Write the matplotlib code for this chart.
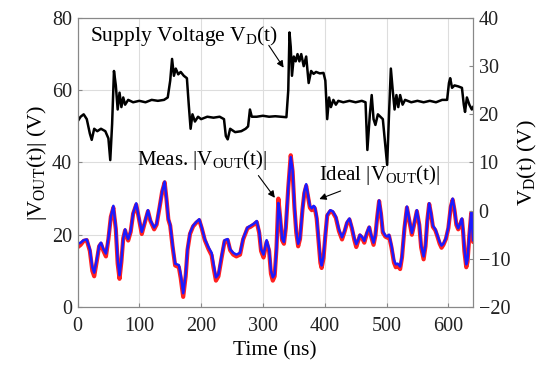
import matplotlib
matplotlib.use("Agg")
import matplotlib.pyplot as plt

plt.rcParams['font.family'] = ['Liberation Serif', 'DejaVu Serif']
plt.rcParams['mathtext.fontset'] = 'custom'
plt.rcParams['mathtext.rm'] = 'Liberation Serif'
plt.rcParams['mathtext.it'] = 'Liberation Serif:italic'

# supply voltage V_D(t), right axis (V)
t_sup = [0, 5, 10, 15, 20, 23, 27, 32, 38, 45, 50, 53, 56, 59, 62, 65, 68, 71, 74, 77,
         82, 90, 100, 110, 120, 130, 140, 146, 150, 153, 156, 159, 163, 167, 172, 177,
         180, 183, 186, 190, 195, 200, 210, 220, 230, 237, 240, 243, 247, 255, 265, 272,
         276, 279, 282, 290, 300, 310, 320, 330, 338, 341, 343, 345, 347, 350, 353, 356,
         359, 362, 366, 370, 374, 378, 382, 386, 392, 398, 401, 404, 407, 410, 414, 418,
         422, 430, 440, 450, 460, 466, 469, 473, 476, 479, 482, 486, 490, 494, 497, 501,
         504, 507, 510, 513, 516, 519, 522, 526, 530, 540, 550, 560, 570, 580, 590, 598,
         601, 603, 606, 610, 616, 622, 625, 627, 630, 634, 638, 640]
v_sup = [18.5, 19.5, 20, 19, 16, 14.7, 17, 16.5, 17, 16.5, 15, 10.5, 18, 29, 26, 21, 24.5, 21.5, 23.5, 22,
         23, 22.5, 22.8, 22.5, 23, 22.8, 23, 23.5, 27, 31.5, 28, 29.5, 28.3, 28.8, 28, 27.5,
         22, 17, 20, 18.5, 19.5, 19, 19.5, 19.3, 19.5, 19, 15.5, 14.8, 17, 16.3, 16.5, 17,
         17.5, 21, 19.5, 19.5, 19.7, 19.5, 19.6, 19.5, 19.4, 25, 37, 34, 28, 32, 31, 32.5,
         31, 32.5, 30, 32, 26.5, 29, 28.4, 28.8, 28.5, 28.6, 27, 19, 23.5, 21.5, 23, 22,
         22.8, 22.5, 22.8, 22.5, 22.8, 22.5, 12.6, 20, 24, 19, 17.8, 20, 19.5, 19, 15, 9.5,
         20, 29.5, 25, 21, 24, 21.5, 24, 22, 23, 22.5, 22.8, 22.5, 22.8, 22.5, 23, 23,
         26.5, 27.5, 25.5, 26, 25.8, 25.5, 22, 20.5, 23.5, 22, 21, 21.5]

# |V_OUT(t)|, left axis (V)
t_out = [0, 5, 10, 15, 20, 24, 27, 31, 35, 38, 42, 46, 50, 54, 58, 62, 65, 68, 71, 74,
         77, 80, 82, 86, 90, 95, 99, 104, 108, 114, 118, 124, 128, 133, 137, 141, 144, 147,
         150, 154, 158, 164, 167, 171, 175, 178, 182, 187, 192, 197, 201, 206, 212, 217,
         220, 224, 228, 233, 238, 243, 247, 252, 257, 263, 268, 275, 280, 285, 290, 294,
         297, 301, 303, 306, 310, 313, 316, 319, 322, 325, 328, 331, 334, 337, 341, 345,
         348, 351, 354, 357, 360, 364, 367, 370, 373, 376, 379, 382, 384, 387, 390, 393,
         395, 398, 401, 404, 409, 413, 418, 423, 428, 432, 436, 440, 444, 448, 451, 454,
         457, 460, 464, 468, 472, 475, 479, 482, 485, 488, 491, 494, 498, 501, 504, 508,
         512, 515, 518, 522, 525, 529, 533, 536, 541, 544, 549, 553, 556, 560, 563, 566,
         569, 572, 575, 579, 582, 586, 589, 592, 596, 600, 604, 607, 610, 613, 616, 619,
         622, 624, 626, 629, 631, 634, 637, 638, 640]
v_ideal = [17.5, 17.8, 18.5, 18.7, 16, 11, 9.5, 13, 17, 17.8, 16, 14.8, 19, 25, 28, 22, 13, 8.8, 13, 19,
           21.5, 19.5, 18.8, 21, 26, 28.7, 25, 20.8, 23, 26.8, 24, 22, 23, 28, 32, 34.7, 30, 24.5,
           22.8, 17, 12, 11.6, 9, 3.8, 9, 16, 20.5, 22.5, 23.5, 24.3, 22, 18.8, 16.5, 15,
           12, 8.2, 9, 14, 18.5, 18.8, 16, 15, 14.5, 15, 19, 22, 22.5, 23, 23.8, 21,
           16, 14.5, 16, 18.5, 16, 10, 8.2, 9, 16, 28.8, 25, 19, 18, 22, 33, 41.5,
           38, 28, 21, 17.5, 19, 27, 32, 34, 31, 28, 27.3, 28, 27.7, 25, 19, 13,
           11.5, 14, 20, 25.5, 26.8, 26.5, 25, 21.5, 19.3, 21, 23.5, 24.5, 22, 19, 17.4, 18.5,
           20, 19.5, 18.3, 20.5, 22.2, 20, 17.8, 20, 25, 29.5, 26, 21, 19.8, 19.5, 20, 17,
           13, 11.8, 12, 11.2, 14, 22, 27.8, 25, 20.5, 22.5, 26.8, 23, 17, 14, 17, 24,
           28.7, 26, 22.5, 21.5, 20, 18, 17, 17.5, 19, 22, 28, 30, 27, 23, 21.8, 23,
           24.5, 21, 16, 11.8, 13, 20, 26.3, 24, 18.5]
v_meas = [16.5, 17.2, 18.3, 18.5, 15.5, 10, 8.5, 12.5, 16.8, 17.5, 15.5, 14, 18.8, 25, 27.5, 21.5, 12, 7.8, 12.5, 19,
          21.2, 19.3, 18.4, 20.8, 25.8, 28.3, 24.8, 20.2, 22.8, 26.5, 23.8, 21.5, 22.8, 27.8, 32, 34.5, 29.8, 24.2,
          22.5, 16.5, 11.5, 11, 8, 2.8, 8.5, 15.8, 20.2, 22.3, 23.3, 24, 21.8, 18.5, 16, 14.3,
          11, 7.3, 8.5, 13.5, 18.2, 18.5, 15.7, 14.5, 14, 14.5, 18.7, 21.8, 22.2, 22.8, 23.5, 20.5,
          15.5, 13.7, 15.5, 18, 15.5, 9.2, 7.3, 8.5, 16.5, 30, 24.5, 18.5, 17.5, 21.8, 33, 42,
          37.5, 27.5, 20.5, 16.8, 18.8, 27, 31.5, 33.5, 30.5, 27.5, 26.8, 27.6, 27.3, 24.5, 18.5, 12.2,
          10.8, 13.5, 19.8, 25.3, 26.5, 26.2, 24.7, 21, 18.7, 20.8, 23.2, 24.2, 21.7, 18.5, 16.6, 18.2,
          19.8, 19.2, 17.8, 20.2, 22, 19.6, 17.2, 19.8, 25, 29.3, 25.7, 20.6, 19.5, 19.2, 19.7, 16.5,
          12.3, 11, 11.5, 10.5, 13.7, 21.8, 27.5, 24.7, 20, 22.3, 26.5, 22.7, 16.5, 13.2, 16.8, 24,
          28.5, 25.7, 22.2, 21.2, 19.7, 17.5, 16.4, 17.2, 18.8, 21.8, 27.7, 29.7, 26.7, 22.7, 21.5, 22.8,
          24.2, 20.5, 15.4, 11, 12.5, 19.8, 26, 23.8, 18]

fig = plt.figure(figsize=(5.52, 3.67), dpi=100)
ax = fig.add_axes([0.1404, 0.1635, 0.7166, 0.7875])
ax2 = ax.twinx()

ax.plot(t_out, v_meas, color='#ff2020', lw=3.0, solid_capstyle='round', zorder=2)
ax.plot(t_out, v_ideal, color='#1a1aff', lw=1.8, zorder=3)
ax2.plot(t_sup, v_sup, color='black', lw=1.8)

ax.set_xlim(0, 640)
ax.set_ylim(0, 80)
ax2.set_ylim(-20, 40)
ax.set_xticks([0, 100, 200, 300, 400, 500, 600])
ax.set_yticks([0, 20, 40, 60, 80])
ax2.set_yticks([-20, -10, 0, 10, 20, 30, 40])
ax.grid(True, color='#dddddd', lw=0.8)
ax.set_axisbelow(True)

for a in (ax, ax2):
    a.tick_params(direction='in', length=3, labelsize=14.5, color='#888888', labelcolor='#222222', pad=4)
    for s in a.spines.values():
        s.set_color('#888888')
ax.tick_params(axis='x', pad=7)

ax.set_xlabel('Time (ns)', fontsize=15.5, labelpad=4)
ax.set_ylabel(r'|V$_\mathrm{OUT}$(t)| (V)', fontsize=16, labelpad=2)
ax2.set_ylabel(r'V$_\mathrm{D}$(t) (V)', fontsize=16, labelpad=4)

arrow = dict(arrowstyle='-|>', color='black', lw=0.8, mutation_scale=10)
ax2.text(20, 36.3, r'Supply Voltage V$_\mathrm{D}$(t)', fontsize=15.5, va='center', ha='left')
ax2.annotate('', xy=(336, 29.2), xytext=(307, 34.8), arrowprops=arrow)
ax.text(96, 40.7, r'Meas. |V$_\mathrm{OUT}$(t)|', fontsize=15, va='center', ha='left')
ax.annotate('', xy=(322, 29.6), xytext=(290, 37), arrowprops=arrow)
ax.text(391, 36.5, r'Ideal |V$_\mathrm{OUT}$(t)|', fontsize=15, va='center', ha='left')
ax.annotate('', xy=(387, 29.6), xytext=(430, 32.4), arrowprops=arrow)

fig.savefig('out.png', dpi=100)
